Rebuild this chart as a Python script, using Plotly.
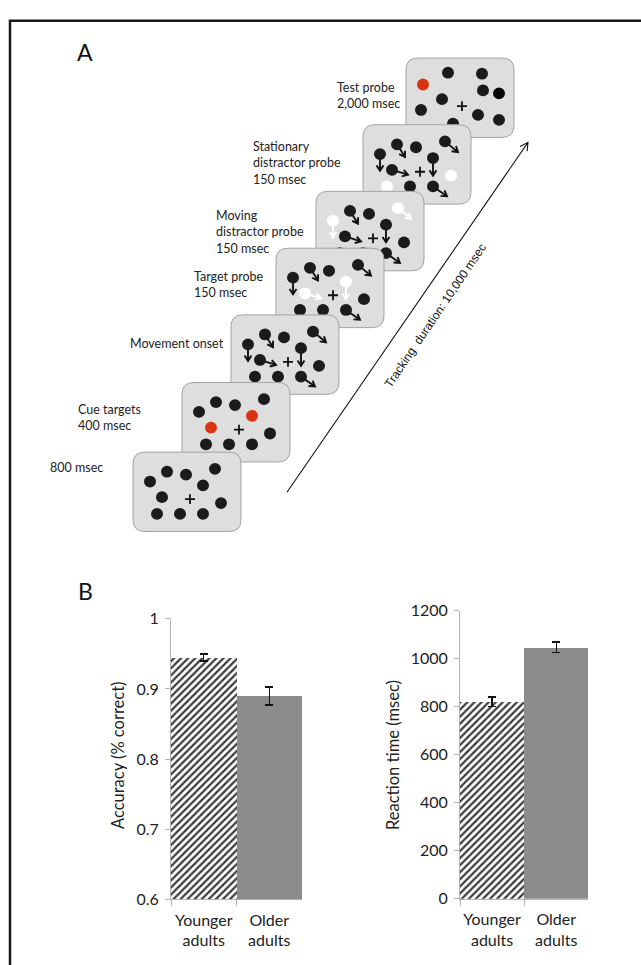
import math
import plotly.graph_objects as go

W, H = 641, 965

# ---------------- Panel B data ----------------
categories = ["Younger<br>adults", "Older<br>adults"]
accuracy = [0.945, 0.890]
accuracy_err = [0.005, 0.013]
rt = [820, 1048]
rt_err = [20, 22]
acc_tickvals = [0.6, 0.7, 0.8, 0.9, 1.0]
acc_ticktext = ["0.6", "0.7", "0.8", "0.9", "1"]
rt_tickvals = [0, 200, 400, 600, 800, 1000, 1200]
rt_ticktext = ["0", "200", "400", "600", "800", "1000", "1200"]

# ---------------- Panel A diagram ----------------
screen_labels = ["800 msec", "Cue targets<br>400 msec", "Movement onset",
                 "Target probe<br>150 msec", "Moving<br>distractor probe<br>150 msec",
                 "Stationary<br>distractor probe<br>150 msec", "Test probe<br>2,000 msec"]
screen_origins = [(133, 451), (182, 380), (231, 311), (276, 243), (316, 185), (363, 117), (406, 49)]
label_pos = [(48, 467), (76, 408), (128, 341), (192, 272), (214, 210), (251, 140), (335, 79)]
base_dots = [(17, 30), (34, 20), (53, 23), (82, 17), (70, 34), (29, 46), (88, 52), (24, 63), (47, 63), (70, 63)]
motion = [(0, 17), (8, 13), None, (13, 11), (0, 18), (16, 5), None, None, None, (14, 10)]
test_dots = [(17, 27), (42, 15), (76, 16), (77, 33), (93, 36), (36, 42), (15, 53), (72, 58), (93, 63), (47, 67)]
screen_special = [({}, False), ({4: "red", 5: "red"}, False), ({}, True),
                  ({4: "white", 5: "white"}, True), ({0: "white", 3: "white"}, True),
                  ({6: "white", 7: "white"}, True), ({0: "red", 4: "dark"}, False)]
tracking_text = "Tracking  duration: 10,000 msec"

SW, SH, SR = 108, 81, 12
DOT_R = 6.0
COL = {"black": "#1b1b1b", "dark": "#050505", "red": "#dc3214", "white": "#ffffff"}


def X(x):
    return x / W


def Y(y):
    return 1 - y / H


def rrect(x, y, w, h, r):
    pts = [("M", x + r, y), ("L", x + w - r, y), ("Q", x + w, y, x + w, y + r),
           ("L", x + w, y + h - r), ("Q", x + w, y + h, x + w - r, y + h),
           ("L", x + r, y + h), ("Q", x, y + h, x, y + h - r), ("L", x, y + r),
           ("Q", x, y, x + r, y)]
    s = ""
    for p in pts:
        if p[0] == "Q":
            s += f"Q{X(p[1]):.5f},{Y(p[2]):.5f} {X(p[3]):.5f},{Y(p[4]):.5f} "
        else:
            s += f"{p[0]}{X(p[1]):.5f},{Y(p[2]):.5f} "
    return s + "Z"


def arrow_path(cx, cy, dx, dy, head=6, ang=32):
    tx, ty = cx + dx, cy + dy
    L = math.hypot(dx, dy)
    ux, uy = dx / L, dy / L
    legs = []
    for s in (1, -1):
        a = math.radians(ang * s)
        vx = ux * math.cos(a) - uy * math.sin(a)
        vy = ux * math.sin(a) + uy * math.cos(a)
        legs.append((tx - head * vx, ty - head * vy))
    return (f"M{X(cx)},{Y(cy)} L{X(tx)},{Y(ty)} M{X(legs[0][0])},{Y(legs[0][1])} "
            f"L{X(tx)},{Y(ty)} L{X(legs[1][0])},{Y(legs[1][1])}")


shapes = []
for i in reversed(range(len(screen_origins))):
    ox, oy = screen_origins[i]
    shapes.append(dict(type="path", xref="paper", yref="paper", path=rrect(ox, oy, SW, SH, SR),
                       fillcolor="#dedede", line=dict(color="#a3a3a3", width=1)))
    over, arrows = screen_special[i]
    dots = test_dots if i == 6 else base_dots
    for j, (dx0, dy0) in enumerate(dots):
        cx, cy = ox + dx0, oy + dy0
        c = COL[over.get(j, "black")]
        if arrows and motion[j] is not None:
            shapes.append(dict(type="path", xref="paper", yref="paper",
                               path=arrow_path(cx, cy, *motion[j], head=6.5),
                               line=dict(color="#111111" if c != "#ffffff" else c, width=1.9)))
        shapes.append(dict(type="circle", xref="paper", yref="paper",
                           x0=X(cx - DOT_R), x1=X(cx + DOT_R), y0=Y(cy + DOT_R), y1=Y(cy - DOT_R),
                           fillcolor=c, line=dict(width=0)))
    ccx, ccy = (ox + 56, oy + 49) if i == 6 else (ox + 57, oy + 48)
    shapes.append(dict(type="path", xref="paper", yref="paper",
                       path=f"M{X(ccx-5)},{Y(ccy)} L{X(ccx+5)},{Y(ccy)} M{X(ccx)},{Y(ccy-5)} L{X(ccx)},{Y(ccy+5)}",
                       line=dict(color="#111111", width=1.8)))

shapes.append(dict(type="path", xref="paper", yref="paper",
                   path=arrow_path(287, 492, 528 - 287, 135 - 492, head=9, ang=28),
                   line=dict(color="#111111", width=1.1)))
shapes.append(dict(type="rect", xref="paper", yref="paper", x0=X(10), x1=X(660), y0=Y(985), y1=Y(11),
                   line=dict(color="#1a1a1a", width=2.5), fillcolor="rgba(0,0,0,0)"))

annotations = []
for lab, (lx, ly) in zip(screen_labels, label_pos):
    annotations.append(dict(text=lab, xref="paper", yref="paper", x=X(lx), y=Y(ly - 10),
                            xanchor="left", yanchor="top", align="left", showarrow=False,
                            font=dict(family="Lato", size=12.5, color="#222222")))
annotations.append(dict(text=tracking_text, xref="paper", yref="paper", x=X(435), y=Y(312),
                        xanchor="center", yanchor="middle", textangle=-55.9, showarrow=False,
                        font=dict(family="Liberation Sans", size=12, color="#111111")))
annotations.append(dict(text="A", xref="paper", yref="paper", x=X(85), y=Y(43), showarrow=False,
                        xanchor="center", yanchor="middle",
                        font=dict(family="Lato", size=23, color="#111111")))
annotations.append(dict(text="B", xref="paper", yref="paper", x=X(85), y=Y(593), showarrow=False,
                        xanchor="center", yanchor="middle",
                        font=dict(family="Lato", size=23, color="#111111")))
annotations.append(dict(text="Accuracy (% correct)", xref="paper", yref="paper", x=X(118), y=Y(760),
                        xanchor="center", yanchor="middle",
                        textangle=-90, showarrow=False, font=dict(family="Lato", size=16.5, color="#222222")))
annotations.append(dict(text="Reaction time (msec)", xref="paper", yref="paper", x=X(393), y=Y(760),
                        xanchor="center", yanchor="middle",
                        textangle=-90, showarrow=False, font=dict(family="Lato", size=16.5, color="#222222")))

fig = go.Figure()
hatch = dict(color="#ffffff", pattern=dict(shape="/", fgcolor="#3a3a3a", fgopacity=1, size=5,
                                           solidity=0.45, fillmode="overlay"), line=dict(width=0))
solid = dict(color="#8c8c8c", line=dict(width=0))
err_style = dict(type="data", color="#111111", thickness=1.4, width=4)

fig.add_trace(go.Bar(x=[categories[0]], y=[accuracy[0]], marker=hatch, xaxis="x", yaxis="y",
                     error_y=dict(array=[accuracy_err[0]], **err_style), showlegend=False))
fig.add_trace(go.Bar(x=[categories[1]], y=[accuracy[1]], marker=solid, xaxis="x", yaxis="y",
                     error_y=dict(array=[accuracy_err[1]], **err_style), showlegend=False))
fig.add_trace(go.Bar(x=[categories[0]], y=[rt[0]], marker=hatch, xaxis="x2", yaxis="y2",
                     error_y=dict(array=[rt_err[0]], **err_style), showlegend=False))
fig.add_trace(go.Bar(x=[categories[1]], y=[rt[1]], marker=solid, xaxis="x2", yaxis="y2",
                     error_y=dict(array=[rt_err[1]], **err_style), showlegend=False))

axis_common = dict(showline=True, linecolor="#b3b3b3", linewidth=1, ticks="outside",
                   tickcolor="#b3b3b3", showgrid=False, zeroline=False,
                   tickfont=dict(family="Lato", size=16, color="#222222"))
fig.update_layout(
    width=W, height=H, margin=dict(l=0, r=0, t=0, b=0),
    paper_bgcolor="white", plot_bgcolor="rgba(0,0,0,0)", bargap=0, barmode="overlay",
    xaxis=dict(domain=[X(171), X(302)], anchor="y", type="category", tickson="boundaries",
               categoryorder="array", categoryarray=categories, tickangle=0,
               ticklen=6, ticklabelstandoff=6, **axis_common),
    yaxis=dict(domain=[Y(907.3), Y(621)], anchor="x", range=[0.6, 1.0], tickvals=acc_tickvals,
               ticktext=acc_ticktext, ticklen=5, ticklabelstandoff=3, **axis_common),
    xaxis2=dict(domain=[X(460), X(588.3)], anchor="y2", type="category", tickson="boundaries",
                categoryorder="array", categoryarray=categories, tickangle=0,
                ticklen=6, ticklabelstandoff=6, **axis_common),
    yaxis2=dict(domain=[Y(906.7), Y(612.7)], anchor="x2", range=[0, 1200], tickvals=rt_tickvals,
                ticktext=rt_ticktext, ticklen=5, ticklabelstandoff=3, **axis_common),
    shapes=shapes, annotations=annotations,
)

fig.write_html("out.html")
